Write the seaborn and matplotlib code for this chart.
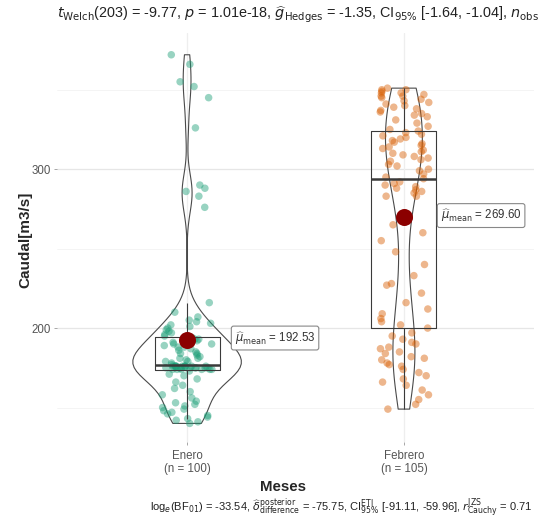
import numpy as np
import pandas as pd
import seaborn as sns
import matplotlib.pyplot as plt

# ---------------- data ----------------
meses = ["Enero", "Febrero"]
tick_labels = ["Enero\n(n = 100)", "Febrero\n(n = 105)"]
y_ticks = [200, 300]

enero = [
    140, 141, 142, 143, 144, 145, 146, 147, 148, 149, 150, 151, 152, 153, 154,
    156, 158, 160, 162, 164, 166, 168, 170, 171, 173,
    174, 174, 174, 174, 174, 174,
    175, 175, 175, 175, 175, 175, 175, 175,
    176, 176, 176, 176, 176, 176, 176, 176, 176, 176, 176,
    177,
    178, 179, 179, 180, 181, 181, 182, 183, 184, 184, 185, 186, 187, 188, 188,
    189, 190, 190, 191, 192, 193, 193, 194, 194,
    195, 196, 197, 198, 199, 200, 201, 202, 203, 204, 205, 207, 210, 216,
    276, 283, 286, 288, 290, 326, 345, 352, 355, 366, 372,
]

febrero = [
    149, 152, 155, 158, 161, 164, 166, 168, 170, 172, 174, 176, 177, 178, 180,
    181, 182, 184, 185, 187, 188, 190, 191, 193, 195, 197, 200,
    202, 204, 206, 209, 212, 216, 222, 227, 228, 233, 240, 248, 255, 260, 265,
    283, 283, 285, 286, 287, 288, 289, 290, 291, 292,
    294,
    295, 297, 299, 300, 302, 303, 305, 306, 307, 308, 309, 310, 311, 312, 313,
    314, 315, 316, 317, 318, 319, 320, 321, 322, 323,
    324,
    325, 327, 329, 331, 333, 334, 335, 336, 337, 338, 339, 340, 341, 342, 343,
    344, 345, 346, 346, 347, 348, 348, 349, 350, 350, 351,
]

title_txt = (r"$t_{\mathrm{Welch}}$(203) = -9.77, $p$ = 1.01e-18, "
             r"$\widehat{g}_{\mathrm{Hedges}}$ = -1.35, CI$_{95\%}$ [-1.64, -1.04], "
             r"$n_{\mathrm{obs}}$ = 205")
caption_txt = (r"log$_{e}$(BF$_{01}$) = -33.54, "
               r"$\widehat{\delta}_{\mathrm{difference}}^{\mathrm{posterior}}$ = -75.75, "
               r"CI$_{95\%}^{\mathrm{ETI}}$ [-91.11, -59.96], "
               r"$r_{\mathrm{Cauchy}}^{\mathrm{JZS}}$ = 0.71")

palette = {"Enero": "#1B9E77", "Febrero": "#D95F02"}

# ---------------- figure ----------------
sns.set_theme(style="white")
plt.rcParams['font.family'] = ['Liberation Sans', 'DejaVu Sans']
plt.rcParams['mathtext.fontset'] = 'dejavusans'

df = pd.DataFrame({
    "Meses": ["Enero"] * len(enero) + ["Febrero"] * len(febrero),
    "Caudal": enero + febrero,
})

fig = plt.figure(figsize=(5.42, 5.20), dpi=100)
ax = fig.add_axes([57 / 542, 1 - 442 / 520, 477 / 542, 409 / 520])

# grid
for v in [150, 250, 350]:
    ax.axhline(v, color="#F3F3F3", lw=0.6, zorder=0)
for v in y_ticks:
    ax.axhline(v, color="#E6E6E6", lw=0.9, zorder=0)
for x in [0, 1]:
    ax.axvline(x, color="#EEEEEE", lw=0.9, zorder=0)

# jittered points
np.random.seed(3)
sns.stripplot(data=df, x="Meses", y="Caudal", hue="Meses", palette=palette,
              order=meses, jitter=0.12, size=5.4, alpha=0.45, linewidth=0,
              legend=False, ax=ax, zorder=2)

# boxes
sns.boxplot(data=df, x="Meses", y="Caudal", order=meses, width=0.3,
            showfliers=False, showcaps=False, fill=False, color="#3A3A3A",
            linewidth=0.8, medianprops=dict(linewidth=1.8, color="#3A3A3A"),
            ax=ax)

# violins (nrd0-style bandwidth, each scaled to its own width)
widths = {"Enero": 0.5, "Febrero": 0.17}
bw_mult = {"Enero": 2.0, "Febrero": 1.0}
for name, vals in zip(meses, [enero, febrero]):
    v = np.asarray(vals, float)
    sd = v.std(ddof=1)
    iqr = np.subtract(*np.percentile(v, [75, 25]))
    bw = 0.9 * min(sd, iqr / 1.34) * len(v) ** (-0.2) * bw_mult[name]
    sub = df[df["Meses"] == name]
    sns.violinplot(data=sub, x="Meses", y="Caudal", order=meses, fill=False,
                   inner=None, cut=0, width=widths[name], bw_method=bw / sd,
                   color="#4A4A4A", linecolor="#4A4A4A", linewidth=0.8, ax=ax)

# means
label_dx = {"Enero": 0.22, "Febrero": 0.17}
for i, (name, vals) in enumerate(zip(meses, [enero, febrero])):
    m = float(np.mean(vals))
    ax.scatter([i], [m], s=150, color="#8B0000", zorder=6, linewidths=0)
    ax.text(i + label_dx[name], m + 1.2, r"$\widehat{\mu}_{\mathrm{mean}}$ = " + f"{m:.2f}",
            ha="left", va="center", fontsize=8.3, color="#333333", zorder=7,
            bbox=dict(boxstyle="round,pad=0.3,rounding_size=0.2", fc="white",
                      ec="#888888", lw=0.8))

ax.set_xlim(-0.6, 1.6)
ax.set_ylim(128.3, 385.7)
ax.set_xticks([0, 1])
ax.set_xticklabels(tick_labels, fontsize=8.3, color="#555555", linespacing=1.05)
ax.set_yticks(y_ticks)
ax.set_yticklabels([str(t) for t in y_ticks], fontsize=8.3, color="#555555")
ax.tick_params(axis="both", length=2.5, width=0.6, color="#999999", pad=2,
               bottom=True, left=True)
ax.tick_params(axis="x", pad=3.5)
for s in ax.spines.values():
    s.set_visible(False)
ax.set_xlabel("Meses", fontsize=10.8, fontweight="bold", va="center")
ax.set_ylabel("Caudal[m3/s]", fontsize=11, fontweight="bold", va="center")
ax.xaxis.set_label_coords((283 - 57) / 477, (442 - 487) / 409)
ax.yaxis.set_label_coords((25 - 57) / 477, (442 - 240) / 409)

fig.text(57 / 542, 1 - 15 / 520, title_txt, ha="left", va="center",
         fontsize=10.4, color="#222222")
fig.text(532 / 542, 1 - 508 / 520, caption_txt, ha="right", va="center",
         fontsize=8.0, color="#222222")

fig.savefig("out.png", dpi=100)
